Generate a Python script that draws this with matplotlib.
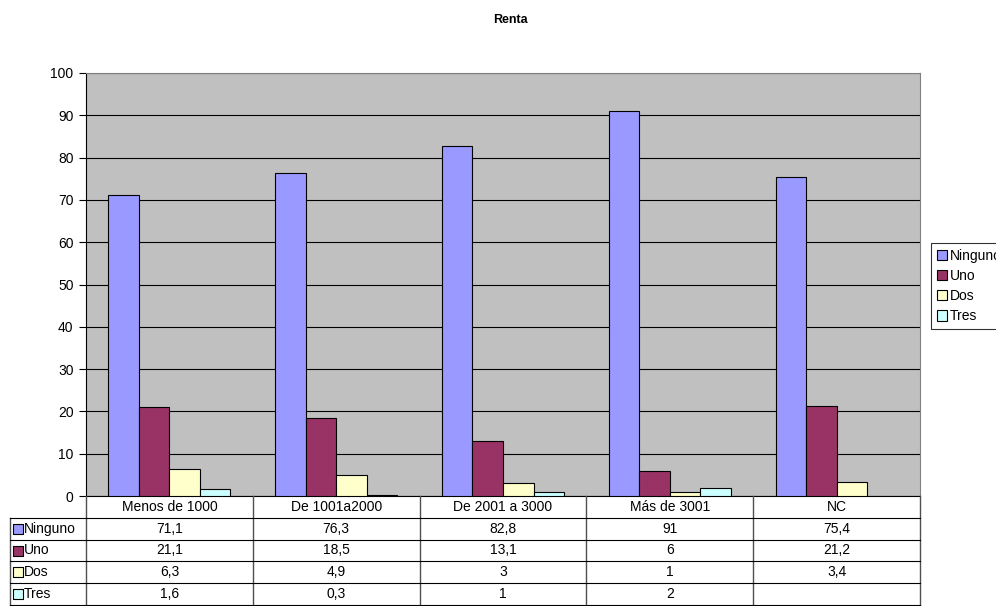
import matplotlib.pyplot as plt
from matplotlib.patches import Patch

plt.rcParams["font.family"] = ["Liberation Sans", "DejaVu Sans"]

categories = ["Menos de 1000", "De 1001a2000", "De 2001 a 3000", "Más de 3001", "NC"]
series_names = ["Ninguno", "Uno", "Dos", "Tres"]
ninguno = [71.1, 76.3, 82.8, 91, 75.4]
uno = [21.1, 18.5, 13.1, 6, 21.2]
dos = [6.3, 4.9, 3, 1, 3.4]
tres = [1.6, 0.3, 1, 2, None]
table_text = [
    ["71,1", "76,3", "82,8", "91", "75,4"],
    ["21,1", "18,5", "13,1", "6", "21,2"],
    ["6,3", "4,9", "3", "1", "3,4"],
    ["1,6", "0,3", "1", "2", ""],
]

colors = ["#9999FF", "#993366", "#FFFFCC", "#CCFFFF"]
series = [ninguno, uno, dos, tres]

W, H = 996, 606
fig = plt.figure(figsize=(W / 100, H / 100), dpi=100)

# plot area in pixels
left, right, top, bottom = 86, 920, 73, 496
ax = fig.add_axes([left / W, 1 - bottom / H, (right - left) / W, (bottom - top) / H])
ax.set_facecolor("#C0C0C0")

n = len(series)
bar_w = 0.183
for i, (name, vals, col) in enumerate(zip(series_names, series, colors)):
    xs = [j + (i - (n - 1) / 2) * bar_w for j, v in enumerate(vals) if v is not None]
    ys = [v for v in vals if v is not None]
    ax.bar(xs, ys, width=bar_w, color=col, edgecolor="black", linewidth=0.8, zorder=3)

ax.set_xlim(-0.5, len(categories) - 0.5)
ax.set_ylim(0, 100)
ax.set_yticks(range(0, 101, 10))
ax.set_xticks([])
ax.tick_params(axis="y", labelsize=10, length=5, width=0.8, pad=4)
ax.yaxis.grid(True, color="black", linewidth=0.8, zorder=0)
ax.set_axisbelow(True)
for side in ["top", "right"]:
    ax.spines[side].set_color("#808080")
for side in ["left", "bottom"]:
    ax.spines[side].set_color("black")
for s in ax.spines.values():
    s.set_linewidth(0.8)

# data table below the plot
lab_w = 76 / ((right - left) / len(categories))
tleft = left - 76
tax = fig.add_axes([tleft / W, 1 - 605 / H, (right - tleft) / W, (605 - bottom) / H])
tax.set_xlim(-lab_w - 0.5, len(categories) - 0.5)
tax.set_ylim(5, 0)
tax.axis("off")
lc = "#505050"
for j in range(len(categories) + 1):
    tax.plot([j - 0.5, j - 0.5], [0, 5], color=lc, lw=1.0, clip_on=False)
tax.plot([-lab_w - 0.5] * 2, [1, 5], color=lc, lw=1.0, clip_on=False)
for r in range(1, 6):
    tax.plot([-lab_w - 0.5, len(categories) - 0.5], [r, r], color="black", lw=0.8, clip_on=False)
for j, c in enumerate(categories):
    tax.text(j, 0.5, c, ha="center", va="center", fontsize=10)
for r, (name, col) in enumerate(zip(series_names, colors)):
    y = r + 1.5
    tax.scatter([-lab_w - 0.5 + 0.05], [y], marker="s", s=48, color=col,
                edgecolor="black", linewidth=0.8, clip_on=False, zorder=4)
    tax.text(-lab_w - 0.5 + 0.085, y, name, ha="left", va="center", fontsize=10)
    for j in range(len(categories)):
        tax.text(j, y, table_text[r][j], ha="center", va="center", fontsize=10)

fig.text(510 / W, 1 - 20 / H, "Renta", ha="center", va="center", fontsize=9, fontweight="bold")

handles = [Patch(facecolor=c, edgecolor="black", linewidth=0.8, label=nm)
           for nm, c in zip(series_names, colors)]
leg = fig.legend(handles=handles, loc="upper left", bbox_to_anchor=(931 / W, 1 - 243 / H),
                 fontsize=10, frameon=True, fancybox=False, edgecolor="black",
                 handlelength=0.75, handleheight=0.75, handletextpad=0.2,
                 borderpad=0.4, labelspacing=0.45, borderaxespad=0)
leg.get_frame().set_linewidth(0.8)

fig.savefig("out.png", dpi=100)
